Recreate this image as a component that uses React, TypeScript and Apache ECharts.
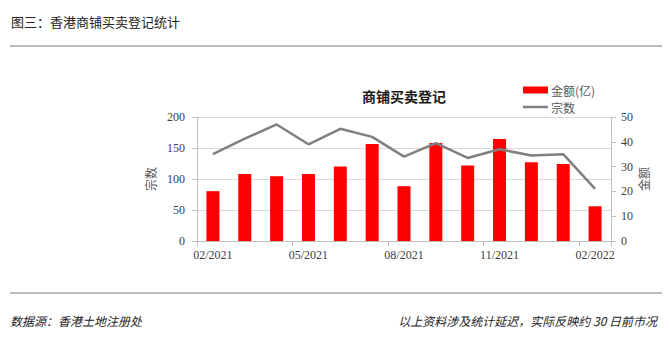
import React, { useEffect, useRef } from 'react';
import * as echarts from 'echarts';

const months = ['02/2021', '03/2021', '04/2021', '05/2021', '06/2021', '07/2021', '08/2021', '09/2021', '10/2021', '11/2021', '12/2021', '01/2022', '02/2022'];
const amounts = [20.1, 27, 26.1, 27, 30, 39.1, 22.1, 39.5, 30.4, 41.1, 31.8, 31, 14];
const counts = [140, 165, 188, 156, 181, 168, 136, 158, 134, 148, 138, 140, 84];

const headerTitle = '图三：香港商铺买卖登记统计';
const chartTitle = '商铺买卖登记';
const amountName = '金额(亿)';
const amountAxisName = '金额';
const countName = '宗数';
const sourceText = '数据源：香港土地注册处';
const noteText = '以上资料涉及统计延迟，实际反映约 30 日前市况';

const serif = '"Liberation Serif", "Noto Sans CJK SC", serif';
const cjk = '"Noto Sans CJK SC", sans-serif';
const barColor = '#ff0000';
const lineColor = '#808080';
const labelColor = '#404040';

export default function App() {
  const ref = useRef<HTMLDivElement>(null);
  useEffect(() => {
    if (!ref.current) return;
    const chart = echarts.init(ref.current, undefined, { renderer: 'svg' });
    chart.setOption({
      animation: false,
      backgroundColor: '#ffffff',
      title: {
        text: chartTitle,
        left: 399,
        top: 84,
        textAlign: 'center',
        textStyle: { fontFamily: cjk, fontSize: 14, fontWeight: 'bold', color: '#1a1a1a' },
      },
      legend: { show: false },
      grid: { left: 197, right: 58, top: 117, bottom: 112, containLabel: false },
      xAxis: {
        type: 'category',
        data: months,
        boundaryGap: true,
        axisLine: { lineStyle: { color: '#bfbfbf', width: 1 } },
        axisTick: { show: true, interval: 2, length: 5, lineStyle: { color: '#bfbfbf' } },
        axisLabel: { interval: 2, margin: 8, fontFamily: serif, fontSize: 12, color: labelColor },
      },
      yAxis: [
        {
          type: 'value',
          min: 0,
          max: 200,
          interval: 50,
          name: countName,
          nameLocation: 'middle',
          nameRotate: 90,
          nameGap: 40,
          nameTextStyle: { fontFamily: cjk, fontSize: 12, color: '#595959' },
          axisLine: { show: true, lineStyle: { color: '#bfbfbf' } },
          axisTick: { show: true, length: 5, lineStyle: { color: '#bfbfbf' } },
          axisLabel: { margin: 12, fontFamily: serif, fontSize: 12, color: labelColor },
          splitLine: { show: true, lineStyle: { color: '#d9d9d9', width: 1 } },
        },
        {
          type: 'value',
          min: 0,
          max: 50,
          interval: 10,
          position: 'right',
          axisLine: { show: true, lineStyle: { color: '#bfbfbf' } },
          axisTick: { show: true, length: 5, lineStyle: { color: '#bfbfbf' } },
          axisLabel: { margin: 10, fontFamily: serif, fontSize: 12, color: labelColor },
          splitLine: { show: false },
        },
      ],
      series: [
        {
          name: amountName,
          type: 'bar',
          yAxisIndex: 1,
          data: amounts,
          barWidth: 13,
          itemStyle: { color: barColor },
          z: 2,
        },
        {
          name: countName,
          type: 'line',
          yAxisIndex: 0,
          data: counts,
          symbol: 'none',
          lineStyle: { color: lineColor, width: 2.5 },
          itemStyle: { color: lineColor },
          z: 3,
        },
      ],
      graphic: [
        {
          type: 'text',
          left: 11,
          top: 15,
          style: { text: headerTitle, fontFamily: cjk, fontSize: 13, fill: '#222222' },
        },
        {
          type: 'line',
          shape: { x1: 10, y1: 46, x2: 662, y2: 46 },
          style: { stroke: '#a6a6a6', lineWidth: 1.5 },
        },
        {
          type: 'line',
          shape: { x1: 10, y1: 293, x2: 662, y2: 293 },
          style: { stroke: '#a6a6a6', lineWidth: 1.5 },
        },
        // right axis name
        {
          type: 'text',
          x: 643,
          y: 179,
          rotation: Math.PI / 2,
          style: {
            text: amountAxisName,
            fontFamily: cjk,
            fontSize: 12,
            fill: '#595959',
            align: 'center',
            verticalAlign: 'middle',
          },
        },
        // legend
        {
          type: 'rect',
          shape: { x: 523, y: 86.5, width: 25, height: 7 },
          style: { fill: barColor },
        },
        {
          type: 'text',
          x: 551,
          y: 90,
          style: { text: amountName, fontFamily: cjk, fontSize: 12, fill: '#595959', verticalAlign: 'middle' },
        },
        {
          type: 'line',
          shape: { x1: 523, y1: 107, x2: 548, y2: 107 },
          style: { stroke: lineColor, lineWidth: 2.5 },
        },
        {
          type: 'text',
          x: 551,
          y: 107,
          style: { text: countName, fontFamily: cjk, fontSize: 12, fill: '#595959', verticalAlign: 'middle' },
        },
        {
          type: 'text',
          left: 10,
          top: 314,
          style: { text: sourceText, fontFamily: cjk, fontSize: 12, fontStyle: 'italic', fill: '#222222' },
        },
        {
          type: 'text',
          right: 12,
          top: 314,
          style: { text: noteText, fontFamily: cjk, fontSize: 12, fontStyle: 'italic', fill: '#222222' },
        },
      ],
    });
    return () => chart.dispose();
  }, []);
  return (
    <div
      ref={ref}
      style={{ position: 'fixed', left: 0, top: 0, width: 669, height: 353, background: '#fff' }}
    />
  );
}
